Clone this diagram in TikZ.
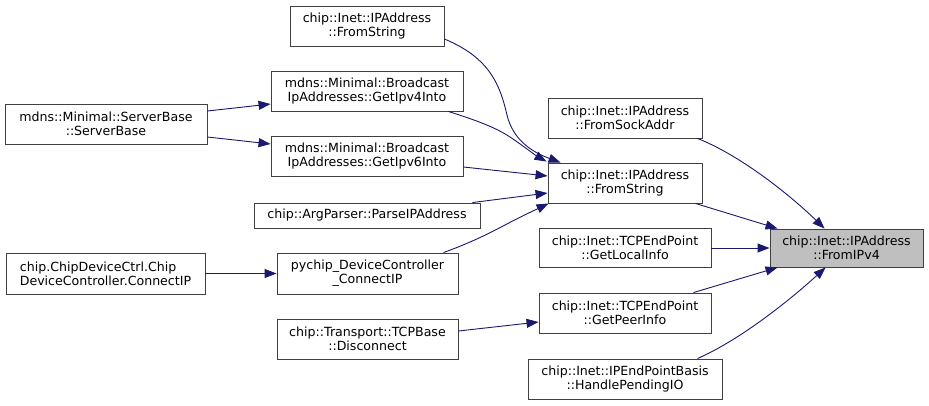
\documentclass[tikz,border=0pt]{standalone}
\usepackage{fontspec}
\setmainfont{DejaVu Sans}
\usetikzlibrary{arrows.meta,calc}
\definecolor{edgeblue}{HTML}{191970}
\definecolor{boxborder}{HTML}{404040}
\definecolor{hilite}{HTML}{BFBFBF}
\tikzset{
  fn/.style={draw=boxborder, line width=0.9pt, fill=white, inner sep=0pt,
    align=center, font=\fontsize{12.6}{14.3}\selectfont, text=black},
  call/.style={draw=edgeblue, line width=0.9pt,
    -{Triangle[length=12pt,width=9pt]}}
}
\begin{document}
\begin{tikzpicture}[x=1pt,y=-1pt]
\useasboundingbox (0,0) rectangle (929,405);
% nodes
\node[fn, fill=hilite, minimum width=153pt, minimum height=38pt] (ipv4) at (846.5,248) {chip::Inet::IPAddress\\::FromIPv4};
\node[fn, minimum width=154pt, minimum height=40pt] (sockaddr) at (625,118) {chip::Inet::IPAddress\\::FromSockAddr};
\node[fn, minimum width=154pt, minimum height=40pt] (fromstr) at (625,183) {chip::Inet::IPAddress\\::FromString};
\node[fn, minimum width=172pt, minimum height=39pt] (localinfo) at (625,248) {chip::Inet::TCPEndPoint\\::GetLocalInfo};
\node[fn, minimum width=172pt, minimum height=40pt] (peerinfo) at (625,313) {chip::Inet::TCPEndPoint\\::GetPeerInfo};
\node[fn, minimum width=194pt, minimum height=40pt] (pending) at (625,379) {chip::Inet::IPEndPointBasis\\::HandlePendingIO};
\node[fn, minimum width=154pt, minimum height=40pt] (fromstrtop) at (367,26) {chip::Inet::IPAddress\\::FromString};
\node[fn, minimum width=192pt, minimum height=40pt] (ipv4into) at (367,91) {mdns::Minimal::Broadcast\\IpAddresses::GetIpv4Into};
\node[fn, minimum width=192pt, minimum height=40pt] (ipv6into) at (367,156) {mdns::Minimal::Broadcast\\IpAddresses::GetIpv6Into};
\node[fn, minimum width=226pt, minimum height=25pt] (parse) at (367,215.5) {chip::ArgParser::ParseIPAddress};
\node[fn, minimum width=181pt, minimum height=41pt] (pychip) at (367.5,273.5) {pychip\_DeviceController\\\_ConnectIP};
\node[fn, minimum width=181pt, minimum height=40pt] (disconnect) at (367.5,339) {chip::Transport::TCPBase\\::Disconnect};
\node[fn, minimum width=202pt, minimum height=40pt] (serverbase) at (106,124) {mdns::Minimal::ServerBase\\::ServerBase};
\node[fn, align=left, minimum width=199pt, minimum height=41pt] (chipctrl) at (105.5,273.5) {chip.ChipDeviceCtrl.Chip\\DeviceController.ConnectIP};
% edges into FromString
\draw[call] ($(fromstrtop.east)+(0,13)$) .. controls (490,58) and (500,85) .. (507,115) .. controls (513,140) and (532,152) .. ($(fromstr.north west)+(13,0)$);
\draw[call] ($(ipv4into.south east)+(-15,0)$) .. controls (475,120) and (495,127) .. (510,137) .. controls (522,145) and (535,155) .. ($(fromstr.north west)+(-1,-1)$);
\draw[call] ($(ipv6into.east)+(0,11)$) -- ($(fromstr.west)+(0,-7)$);
\draw[call] ($(parse.north east)+(-8,0)$) -- ($(fromstr.west)+(0,10)$);
\draw[call] ($(pychip.north east)+(-15,0)$) .. controls (470,243) and (490,233) .. (505,225) .. controls (520,217) and (535,210) .. ($(fromstr.south west)+(1,0)$);
% left edges
\draw[call] ($(serverbase.east)+(0,-13)$) -- ($(ipv4into.west)+(0,13)$);
\draw[call] ($(serverbase.east)+(0,13)$) -- ($(ipv6into.west)+(0,-12)$);
\draw[call] (chipctrl.east) -- (pychip.west);
\draw[call] ($(disconnect.east)+(0,-8)$) -- ($(peerinfo.west)+(0,9)$);
% edges into FromIPv4
\draw[call] ($(sockaddr.south east)+(-5,0)$) .. controls (740,155) and (790,195) .. ($(ipv4.north west)+(55,0)$);
\draw[call] ($(fromstr.south east)+(-7,0)$) -- ($(ipv4.north west)+(8,0)$);
\draw[call] (localinfo.east) -- (ipv4.west);
\draw[call] ($(peerinfo.north east)+(-18,0)$) -- ($(ipv4.south west)+(8,0)$);
\draw[call] ($(pending.north east)+(-25,0)$) .. controls (740,340) and (790,300) .. ($(ipv4.south west)+(56,0)$);
\end{tikzpicture}
\end{document}
